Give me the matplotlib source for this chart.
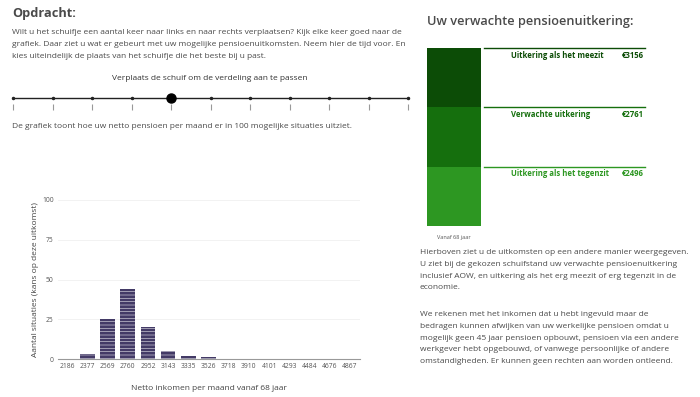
import matplotlib.pyplot as plt
import numpy as np

plt.rcParams['font.family'] = ['Open Sans', 'DejaVu Sans']
plt.rcParams['hatch.linewidth'] = 0.35

# histogram data
inkomen = ['2186', '2377', '2569', '2760', '2952', '3143', '3335', '3526',
           '3718', '3910', '4101', '4293', '4484', '4676', '4867']
aantal = [0, 3, 25, 44, 20, 5, 2, 1, 0, 0, 0, 0, 0, 0, 0]
y_ticks = [0, 25, 50, 75, 100]

# slider
slider_stappen = 11
slider_positie = 4

# expected pension block
uitkering_labels = ['Uitkering als het meezit', 'Verwachte uitkering', 'Uitkering als het tegenzit']
uitkering_bedragen = [3156, 2761, 2496]
uitkering_kleuren = ['#0c4c06', '#156f0d', '#2d9722']

tekst_kleur = '#4a4a4a'
fs = 6.0

fig = plt.figure(figsize=(7, 3.97), dpi=100)

# background axes in pixel coords for the page layout
bg = fig.add_axes([0, 0, 1, 1])
bg.set_xlim(0, 700)
bg.set_ylim(397, 0)
bg.axis('off')

bg.text(12, 14, 'Opdracht:', fontsize=9.2, fontweight='bold', color=tekst_kleur, va='center')
intro = ['Wilt u het schuifje een aantal keer naar links en naar rechts verplaatsen? Kijk elke keer goed naar de',
         'grafiek. Daar ziet u wat er gebeurt met uw mogelijke pensioenuitkomsten. Neem hier de tijd voor. En',
         'kies uiteindelijk de plaats van het schuifje die het beste bij u past.']
for i, regel in enumerate(intro):
    bg.text(12, 32 + i * 12, regel, fontsize=fs, color=tekst_kleur, va='center')

# slider
bg.text(210, 78, 'Verplaats de schuif om de verdeling aan te passen', fontsize=fs,
        color='#333333', ha='center', va='center')
sx = np.linspace(13, 408, slider_stappen)
bg.plot([sx[0], sx[-1]], [98, 98], color='#222222', lw=1)
bg.plot(sx, [98] * slider_stappen, 'o', color='#222222', ms=1.5)
bg.vlines(sx, 104, 110, color='#999999', lw=0.8)
bg.plot(sx[slider_positie], 98, 'o', color='black', ms=6.5)
bg.text(12, 126, 'De grafiek toont hoe uw netto pensioen per maand er in 100 mogelijke situaties uitziet.',
        fontsize=fs, color=tekst_kleur, va='center')

# right column
bg.text(427, 22, 'Uw verwachte pensioenuitkering:', fontsize=9.2, fontweight='semibold',
        color=tekst_kleur, va='center')
blok_top, blok_h = 48, 59.3
for i, (lab, bedrag, kleur) in enumerate(zip(uitkering_labels, uitkering_bedragen, uitkering_kleuren)):
    y0 = blok_top + i * blok_h
    bg.add_patch(plt.Rectangle((427, y0), 54, blok_h, color=kleur, lw=0))
    bg.plot([484, 645], [y0, y0], color=kleur, lw=1)
    bg.text(511, y0 + 7, lab, fontsize=5.6, fontweight='bold', color=kleur, va='center')
    bg.text(644, y0 + 7, '\u20ac' + str(bedrag), fontsize=5.6, fontweight='bold', color=kleur,
            va='center', ha='right')
bg.text(454, 238, 'Vanaf 68 jaar', fontsize=4, color='#555555', ha='center', va='center')

uitleg = ['Hierboven ziet u de uitkomsten op een andere manier weergegeven.',
          'U ziet bij de gekozen schuifstand uw verwachte pensioenuitkering',
          'inclusief AOW, en uitkering als het erg meezit of erg tegenzit in de',
          'economie.',
          '',
          'We rekenen met het inkomen dat u hebt ingevuld maar de',
          'bedragen kunnen afwijken van uw werkelijke pensioen omdat u',
          'mogelijk geen 45 jaar pensioen opbouwt, pensioen via een andere',
          'werkgever hebt opgebouwd, of vanwege persoonlijke of andere',
          'omstandigheden. Er kunnen geen rechten aan worden ontleend.']
for i, regel in enumerate(uitleg):
    bg.text(420, 253 + i * 11.6 + (4 if i > 4 else 0), regel, fontsize=fs, color=tekst_kleur, va='center')

# histogram
ax = fig.add_axes([58 / 700, (397 - 359) / 397, 302 / 700, 159 / 397])
x = np.arange(len(inkomen))
ax.bar(x, aantal, width=0.72, color='#433a66', edgecolor='white', linewidth=0, hatch='-----')
ax.set_xlim(-0.45, len(inkomen) - 0.5)
ax.set_ylim(0, 100)
ax.set_xticks(x)
ax.set_xticklabels(inkomen, fontsize=4.9, color='#555555')
ax.set_yticks(y_ticks)
ax.set_yticklabels([str(v) for v in y_ticks], fontsize=4.9, color='#555555')
ax.tick_params(length=0, pad=3)
for s in ['top', 'right', 'left']:
    ax.spines[s].set_visible(False)
ax.spines['bottom'].set_color('#999999')
ax.spines['bottom'].set_linewidth(0.8)
ax.yaxis.grid(True, color='#f0f0f0', lw=0.6)
ax.set_axisbelow(True)
ax.set_ylabel('Aantal situaties (kans op deze uitkomst)', fontsize=fs, color='#444444', labelpad=2)
ax.set_xlabel('Netto inkomen per maand vanaf 68 jaar', fontsize=fs, color='#444444', labelpad=11)

fig.savefig('out.png', dpi=100, facecolor='white')
